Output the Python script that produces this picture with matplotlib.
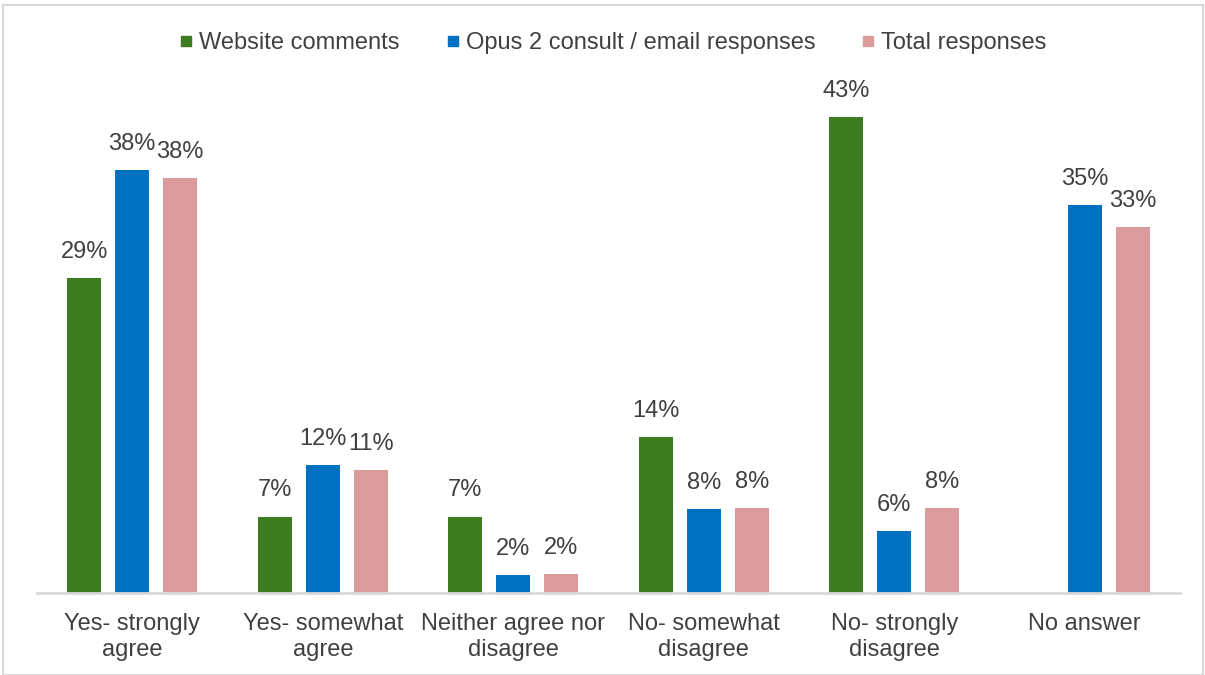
import numpy as np
import matplotlib
matplotlib.use("Agg")
import matplotlib.pyplot as plt
from matplotlib.lines import Line2D
from matplotlib.patches import Rectangle

categories = ["Yes- strongly\nagree", "Yes- somewhat\nagree", "Neither agree nor\ndisagree",
              "No- somewhat\ndisagree", "No- strongly\ndisagree", "No answer"]
series_names = ["Website comments", "Opus 2 consult / email responses", "Total responses"]
website = [28.6, 6.9, 6.9, 14.1, 43.2, 0.0]
opus = [38.4, 11.6, 1.6, 7.6, 5.6, 35.2]
total = [37.7, 11.1, 1.7, 7.7, 7.7, 33.2]
colors = ["#3E7C22", "#0070C0", "#D99B9B"]

plt.rcParams["font.family"] = ["Liberation Sans", "DejaVu Sans"]
text_color = "#404040"
fs = 17

fig = plt.figure(figsize=(12.05, 6.75), dpi=100)
ax = fig.add_axes([37 / 1205, 1 - 592.5 / 675, (1180 - 37) / 1205, (592.5 - 64.5) / 675])

x = np.arange(len(categories))
step = 0.252
width = 0.178
for i, (vals, col) in enumerate(zip([website, opus, total], colors)):
    pos = x + (i - 1) * step
    bars = ax.bar(pos, vals, width=width, color=col, edgecolor="none", zorder=2)
    for b, v in zip(bars, vals):
        if v <= 0:
            continue
        ax.annotate(f"{v:.0f}%", (b.get_x() + b.get_width() / 2, v),
                    xytext=(0, 11), textcoords="offset points",
                    ha="center", va="bottom", fontsize=fs, color=text_color)

ax.set_xlim(-0.5, len(categories) - 0.5)
ax.set_ylim(0, 48)
ax.set_yticks([])
ax.set_xticks(x)
ax.set_xticklabels(categories, fontsize=fs, color=text_color, linespacing=1.2)
ax.tick_params(axis="x", length=0, pad=15)
for s in ["top", "right", "left"]:
    ax.spines[s].set_visible(False)
ax.spines["bottom"].set_color("#D9D9D9")
ax.spines["bottom"].set_linewidth(2)

handles = [Line2D([0], [0], marker="s", linestyle="none", markersize=6.5,
                  markerfacecolor=c, markeredgecolor=c) for c in colors]
fig.legend(handles, series_names, loc="center", bbox_to_anchor=(0.509, 1 - 43 / 675),
           ncol=3, frameon=False, fontsize=fs, labelcolor=text_color,
           handlelength=0.5, handletextpad=0.3, columnspacing=2.0)

fig.patches.append(Rectangle((3 / 1205, 0.0), 1 - 5 / 1205, 1 - 5 / 675,
                             transform=fig.transFigure, fill=False,
                             edgecolor="#D9D9D9", linewidth=1.5))

fig.savefig("out.png", dpi=100)
